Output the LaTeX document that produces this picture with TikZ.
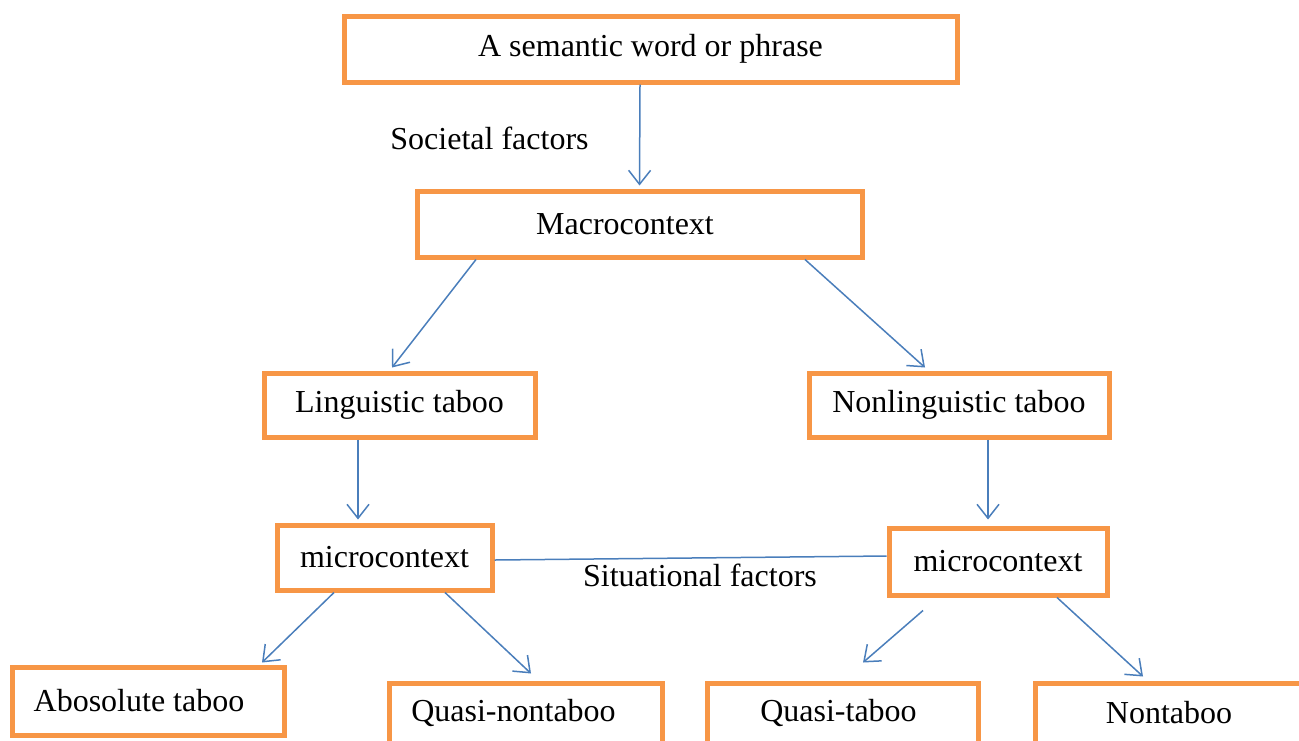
\documentclass[tikz,border=0pt]{standalone}
\usepackage{fontspec}
\setmainfont{Liberation Serif}
\usetikzlibrary{arrows.meta}
\definecolor{boxorange}{HTML}{F79646}
\definecolor{lineblue}{HTML}{4A7EBB}
\begin{document}
\begin{tikzpicture}[x=0.5pt,y=-0.5pt,
  box/.style={draw=boxorange, line width=2.5pt, fill=white, inner sep=0pt, font=\fontsize{16}{19}\selectfont},
  txt/.style={font=\fontsize{16}{19}\selectfont, inner sep=0pt},
  arr/.style={draw=lineblue, line width=0.75pt, -{Straight Barb[length=7pt,width=11pt]}},
  conn/.style={draw=lineblue, line width=0.75pt}]
\useasboundingbox (0,0) rectangle (1299,740);
\clip (0,0) rectangle (1299,740);
\node[box, minimum width=306.5pt, minimum height=33pt] (top) at (650.5,49) {A semantic word or phrase};
\node[box, minimum width=222.5pt, minimum height=33pt, label={[txt,xshift=-7.25pt]center:Macrocontext}] (macro) at (639.5,224) {};
\node[box, minimum width=135.5pt, minimum height=32pt] (ling) at (399.5,405) {Linguistic taboo};
\node[box, minimum width=150pt, minimum height=32pt] (nonling) at (959,405) {Nonlinguistic taboo};
\node[box, minimum width=107.5pt, minimum height=32.5pt] (microL) at (384.5,557.5) {microcontext};
\node[box, minimum width=109pt, minimum height=33.5pt] (microR) at (998,561.5) {microcontext};
\node[box, minimum width=136pt, minimum height=34pt, label={[txt,xshift=-4.5pt]center:Abosolute taboo}] (abs) at (148,701) {};
\node[box, minimum width=136.5pt, minimum height=33.5pt, label={[txt,xshift=-6pt,yshift=1.75pt]center:Quasi-nontaboo}] (qn) at (525.5,716.5) {};
\node[box, minimum width=135.5pt, minimum height=33.5pt, label={[txt,xshift=-2pt,yshift=1.75pt]center:Quasi-taboo}] (qt) at (842.5,716.5) {};
\node[box, minimum width=135pt, minimum height=33.5pt, label={[txt,xshift=-0.5pt,yshift=1.75pt]center:Nontaboo}] (nt) at (1170,716.5) {};
\node[txt] (soc) at (489.5,138) {Societal factors};
\node[txt] (sit) at (700,575) {Situational factors};
\draw[arr] ([xshift=-5.25pt]top.south) -- ([yshift=1.5pt]macro.north);
\draw[arr] ([xshift=-81.75pt]macro.south) -- ([xshift=-3.75pt,yshift=1.5pt]ling.north);
\draw[arr] ([xshift=82.75pt]macro.south) -- ([xshift=-17pt,yshift=1.5pt]nonling.north);
\draw[arr] ([xshift=-20.75pt]ling.south) -- ([xshift=-13.25pt,yshift=1.5pt]microL.north);
\draw[arr] ([xshift=14.5pt]nonling.south) -- ([xshift=-5pt,yshift=3pt]microR.north);
\draw[arr] ([xshift=-25.25pt]microL.south) -- ([xshift=57pt,yshift=1pt]abs.north);
\draw[arr] ([xshift=30.25pt]microL.south) -- ([xshift=2.75pt,yshift=3.5pt]qn.north);
\draw[arr] ([xshift=-37.5pt,yshift=-6.5pt]microR.south) -- ([xshift=10.25pt,yshift=9pt]qt.north);
\draw[arr] ([xshift=29.5pt]microR.south) -- ([xshift=-13.5pt,yshift=2pt]nt.north);
\draw[conn] ([yshift=-1.25pt]microL.east) -- ([yshift=2.75pt]microR.west);
\end{tikzpicture}
\end{document}
